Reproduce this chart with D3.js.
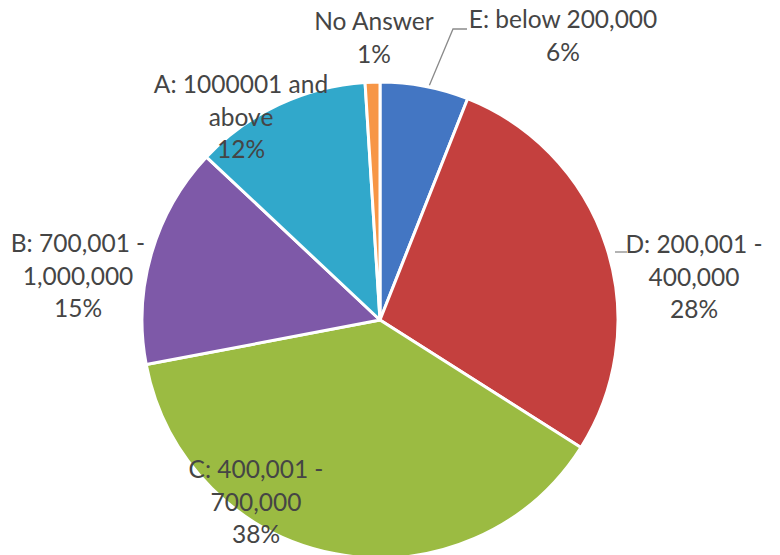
<!DOCTYPE html>
<html>
<head>
<meta charset="utf-8">
<script src="https://cdn.jsdelivr.net/npm/d3@7"></script>
<style>
  html, body { margin: 0; padding: 0; background: #ffffff; }
  svg { display: block; }
</style>
</head>
<body>
<div id="chart"></div>
<script>
// Income bracket shares, clockwise from 12 o'clock
const categories = ["E: below 200,000", "D: 200,001 - 400,000", "C: 400,001 - 700,000",
                    "B: 700,001 - 1,000,000", "A: 1000001 and above", "No Answer"];
const shares = [6, 28, 38, 15, 12, 1];
// Label text lines for each slice (percent line is added from the share)
const labelLines = [
  ["E: below 200,000"],
  ["D: 200,001 -", "400,000"],
  ["C: 400,001 -", "700,000"],
  ["B: 700,001 -", "1,000,000"],
  ["A: 1000001 and", "above"],
  ["No Answer"]
];
const sliceColors = ["#4376c3", "#c4403e", "#9bbb42", "#7e59a8", "#31a8cb", "#f79646"];

const width = 780, height = 555;
const cx = 380, cy = 320, radius = 238;

// Label anchor (centre x, first baseline y) per slice
const labelAnchors = [
  { x: 563, y: 28 },
  { x: 694, y: 253 },
  { x: 256, y: 478 },
  { x: 78,  y: 252 },
  { x: 241, y: 93 },
  { x: 374, y: 30 }
];
const lineGap = 32.5;

const svg = d3.select("#chart").append("svg")
  .attr("width", width).attr("height", height);

const data = categories.map((c, i) => ({ name: c, value: shares[i], index: i }));

const pie = d3.pie().sort(null).value(d => d.value);
const arc = d3.arc().innerRadius(0).outerRadius(radius);

const g = svg.append("g").attr("transform", `translate(${cx},${cy})`);

const arcs = pie(data);

g.selectAll("path.slice")
  .data(arcs)
  .join("path")
  .attr("class", "slice")
  .attr("d", arc)
  .attr("fill", d => sliceColors[d.data.index])
  .attr("stroke", "#ffffff")
  .attr("stroke-width", 3)
  .attr("stroke-linejoin", "round");

// Leader lines for the labels that sit away from their slice
const arcAt = (a, r) => [cx + r * Math.sin(a), cy - r * Math.cos(a)];
const eArc = arcs[0];
const eStart = arcAt(eArc.startAngle + (eArc.endAngle - eArc.startAngle) * 0.55, radius + 2);
svg.append("polyline")
  .attr("points", [eStart, [453, 29], [467, 29]].map(p => p.join(",")).join(" "))
  .attr("fill", "none")
  .attr("stroke", "#8a8a8a")
  .attr("stroke-width", 1.3);
svg.append("line")
  .attr("x1", 615).attr("y1", 252).attr("x2", 627).attr("y2", 252)
  .attr("stroke", "#8a8a8a")
  .attr("stroke-width", 1.3);

// Data labels
const labels = svg.selectAll("text.label")
  .data(data)
  .join("text")
  .attr("class", "label")
  .attr("text-anchor", "middle")
  .attr("font-family", "Lato, 'Open Sans', sans-serif")
  .attr("font-size", 24.5)
  .attr("fill", "#454545");

labels.each(function(d) {
  const t = d3.select(this);
  const a = labelAnchors[d.index];
  const lines = labelLines[d.index].concat([d.value + "%"]);
  lines.forEach((ln, k) => {
    t.append("tspan")
      .attr("x", a.x)
      .attr("y", a.y + k * lineGap)
      .text(ln);
  });
});
</script>
</body>
</html>
